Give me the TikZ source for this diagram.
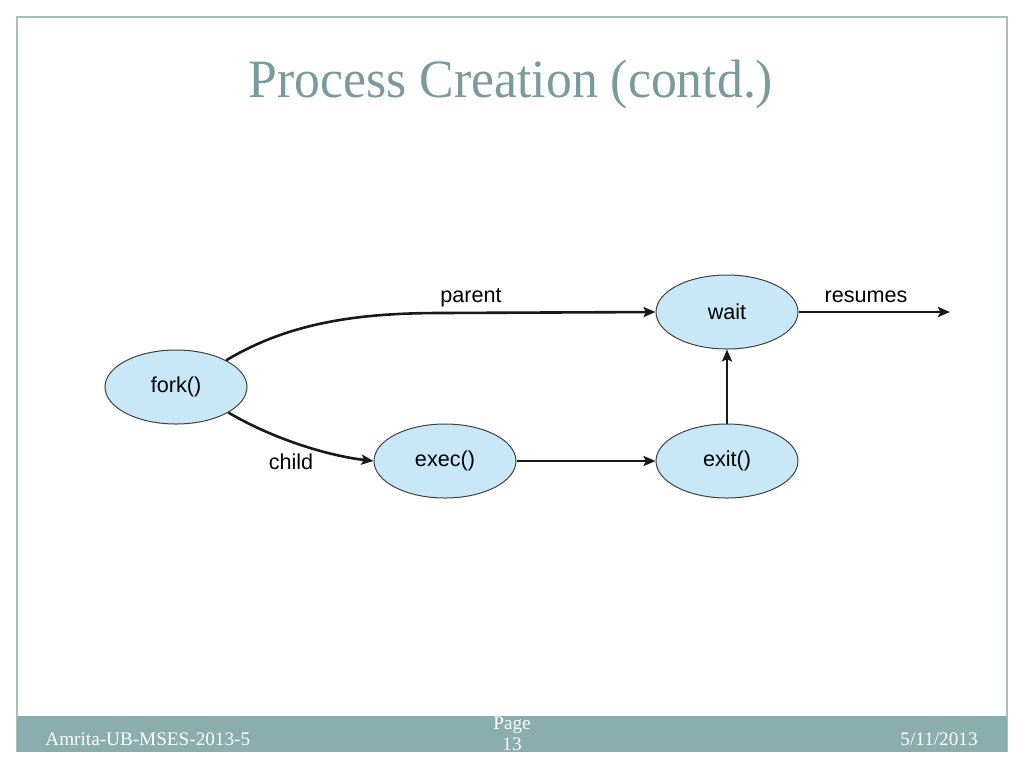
\documentclass[tikz,border=0pt]{standalone}
\usepackage{fontspec}
\setmainfont{Liberation Serif}
\setsansfont{Liberation Sans}
\usepackage{xcolor}
\usetikzlibrary{shapes.geometric,positioning,calc,arrows.meta}

\definecolor{titlegray}{HTML}{7A9A9C}
\definecolor{footbar}{HTML}{8AADAD}
\definecolor{framegray}{HTML}{A9BDBD}
\definecolor{procblue}{HTML}{C8E8F8}

\begin{document}
\begin{tikzpicture}[x=0.5pt,y=-0.5pt,
    proc/.style={ellipse, draw=black!75, line width=0.5pt, fill=procblue,
        minimum width=71pt, minimum height=37pt, inner sep=0pt,
        font=\sffamily\fontsize{10.8}{12}\selectfont},
    lbl/.style={font=\sffamily\fontsize{10.8}{12}\selectfont, inner sep=0pt},
    flow/.style={line width=1.3pt, black!90, -{Stealth[length=6pt,width=5pt,inset=1.2pt]}}]
    \useasboundingbox (0,0) rectangle (1024,768);
    \fill[white] (0,0) rectangle (1024,768);

    % slide frame and footer
    \draw[framegray, line width=0.8pt] (17,752) -- (17,17) -- (1007,17) -- (1007,752);
    \fill[footbar] (17,716) rectangle (1007,752);
    \node[anchor=base, text=titlegray, font=\fontsize{27}{30}\selectfont] (title) at (511,97) {\scalebox{0.958}[1]{Process Creation (contd.)}};
    \node[anchor=base west, text=white, font=\fontsize{9.6}{11}\selectfont, inner sep=0pt] (footl) at (45,745) {Amrita-UB-MSES-2013-5};
    \node[anchor=base, text=white, font=\fontsize{9.6}{11}\selectfont, inner sep=0pt] (page) at (512,729) {Page};
    \node[anchor=base, text=white, font=\fontsize{9.6}{11}\selectfont, inner sep=0pt] (pagenum) at (512,750) {13};
    \node[anchor=base east, text=white, font=\fontsize{9.6}{11}\selectfont, inner sep=0pt] (footr) at (978,745) {5/11/2013};

    % processes
    \node[proc] (fork) at (176,387) {fork()};
    \node[proc] (exec) at (445,461) {exec()};
    \node[proc] (wait) at (727,312) {wait};
    \node[proc] (exit) at (727,461) {exit()};
    \coordinate (out) at (950,312);

    % connectors
    \draw[flow] (fork.28) .. controls (290,322) and (360,313) .. (441,313) -- (wait.west);
    \draw[flow] (fork.-26) .. controls (275,440) and (330,456) .. (exec.west);
    \draw[flow] (exec.east) -- (exit.west);
    \draw[flow] (exit.north) -- (wait.south);
    \draw[flow] (wait.east) -- (out);

    % labels
    \node[lbl] (parentlbl) at (471,298) {parent};
    \node[lbl] (childlbl) at (291,462) {child};
    \node[lbl] (resumeslbl) at (866,297) {resumes};
\end{tikzpicture}
\end{document}
